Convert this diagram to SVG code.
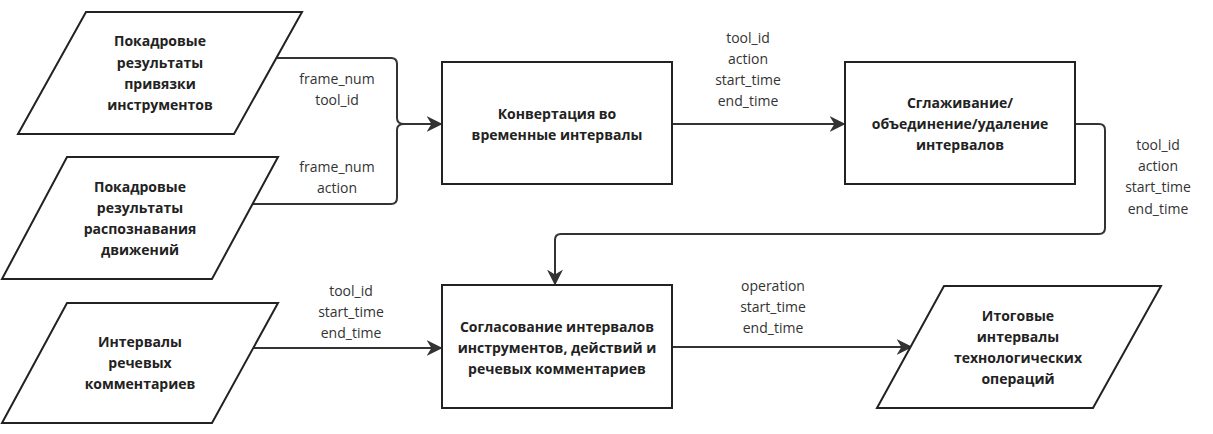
<svg xmlns="http://www.w3.org/2000/svg" width="1213" height="434" viewBox="0 0 1213 434">
<style>
.s{fill:#fff;stroke:#222;stroke-width:2}
.t{font-family:"Open Sans","Noto Sans",sans-serif;font-size:14px;font-weight:bold;fill:#222;text-anchor:middle}
.l{font-family:"Open Sans","Noto Sans",sans-serif;font-size:14px;fill:#333;text-anchor:middle}
.c{fill:none;stroke:#333;stroke-width:2}
</style>
<defs><marker id="b" viewBox="0 0 10 10" refX="9" refY="5" markerWidth="8" markerHeight="8" orient="auto" markerUnits="strokeWidth"><path d="M0,0L10,5L0,10L3,5Z" fill="#333"/></marker></defs>
<rect width="1213" height="434" fill="#fff"/>
<g id="connectors">
<path class="c" marker-end="url(#b)" d="M276,58H391Q397,58 397,64V118Q397,124 404,124H441"/>
<path class="c" d="M253,204H391Q397,204 397,198V130Q397,124 404,124"/>
<path class="c" marker-end="url(#b)" d="M672,124H844"/>
<path class="c" marker-end="url(#b)" d="M1075,124H1099Q1105,124 1105,130V228Q1105,234 1099,234H561Q555,234 555,240V284"/>
<path class="c" marker-end="url(#b)" d="M253,348H441"/>
<path class="c" marker-end="url(#b)" d="M672,347H911"/>
<text class="l" x="337" y="84">frame_num</text><text class="l" x="337" y="105">tool_id</text>
<text class="l" x="337" y="172">frame_num</text><text class="l" x="337" y="193">action</text>
<text class="l" x="748" y="43">tool_id</text><text class="l" x="748" y="64">action</text><text class="l" x="748" y="85">start_time</text><text class="l" x="748" y="106">end_time</text>
<text class="l" x="1158" y="150">tool_id</text><text class="l" x="1158" y="171">action</text><text class="l" x="1158" y="192">start_time</text><text class="l" x="1158" y="214">end_time</text>
<text class="l" x="351" y="296">tool_id</text><text class="l" x="351" y="317">start_time</text><text class="l" x="351" y="338">end_time</text>
<text class="l" x="773" y="291">operation</text><text class="l" x="773" y="312">start_time</text><text class="l" x="773" y="333">end_time</text>
</g>
<g id="n1"><path class="s" d="M86,12H302L234,134H18Z"/><text class="t" x="160" y="46">Покадровые</text><text class="t" x="160" y="68">результаты</text><text class="t" x="160" y="89">привязки</text><text class="t" x="160" y="110">инструментов</text></g>
<g id="n2"><path class="s" d="M67,157H278L212,279H2Z"/><text class="t" x="140" y="192">Покадровые</text><text class="t" x="140" y="213">результаты</text><text class="t" x="140" y="234">распознавания</text><text class="t" x="140" y="255">движений</text></g>
<g id="n3"><path class="s" d="M67,303H278L212,423H2Z"/><text class="t" x="140" y="347">Интервалы</text><text class="t" x="140" y="368">речевых</text><text class="t" x="140" y="389">комментариев</text></g>
<g id="n4"><rect class="s" x="442" y="62" width="230" height="122"/><text class="t" x="557" y="119">Конвертация во</text><text class="t" x="557" y="140">временные интервалы</text></g>
<g id="n5"><rect class="s" x="845" y="62" width="230" height="122"/><text class="t" x="960" y="108">Сглаживание/</text><text class="t" x="960" y="129">объединение/удаление</text><text class="t" x="960" y="150">интервалов</text></g>
<g id="n6"><rect class="s" x="442" y="285" width="230" height="123"/><text class="t" x="557" y="332">Согласование интервалов</text><text class="t" x="557" y="353">инструментов, действий и</text><text class="t" x="557" y="374">речевых комментариев</text></g>
<g id="n7"><path class="s" d="M944,286H1161L1093,408H877Z"/><text class="t" x="1018" y="321">Итоговые</text><text class="t" x="1018" y="342">интервалы</text><text class="t" x="1018" y="363">технологических</text><text class="t" x="1018" y="384">операций</text></g>
</svg>
